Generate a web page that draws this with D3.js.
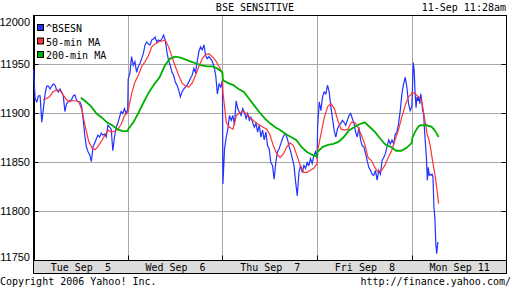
<!DOCTYPE html>
<html lang="en">
<head>
<meta charset="UTF-8">
<title>BSE SENSITIVE</title>
<script src="https://d3js.org/d3.v7.min.js"></script>
<style>
  body { margin: 0; background: #fff; }
  svg text { font-family: "DejaVu Sans Mono", monospace; font-size: 10px; fill: #000; }
</style>
</head>
<body>
<div id="chart"></div>
<script>

// session labels and y ticks
var dayLabels = ["Tue Sep  5", "Wed Sep  6", "Thu Sep  7", "Fri Sep  8", "Mon Sep 11"];
var yTicks = [11750, 11800, 11850, 11900, 11950, 12000];

// ^BSESN, one array per trading day
var bsesn = [
  [11945, 11915, 11912, 11918, 11918, 11891, 11905, 11920, 11928, 11928, 11925, 11928, 11930, 11929, 11924, 11922, 11925, 11922, 11918, 11902,
   11910, 11912, 11913, 11914, 11918, 11919, 11914, 11912, 11912, 11908, 11895, 11878, 11866, 11861, 11858, 11851, 11866, 11870, 11874, 11878,
   11876, 11880, 11878, 11879, 11876, 11888, 11886, 11884, 11862, 11876, 11886, 11890, 11896, 11902, 11900, 11905, 11900, 11904],
  [11935, 11941, 11958, 11949, 11953, 11942, 11948, 11951, 11956, 11961, 11970, 11973, 11971, 11970, 11975, 11976, 11978, 11973, 11975, 11974,
   11976, 11980, 11975, 11963, 11954, 11949, 11942, 11939, 11932, 11929, 11924, 11917, 11922, 11925, 11927, 11929, 11932, 11936, 11939, 11946,
   11942, 11953, 11963, 11968, 11965, 11970, 11959, 11956, 11958, 11956, 11953, 11948, 11939, 11920, 11930, 11927, 11934],
  [11828, 11864, 11876, 11884, 11898, 11893, 11898, 11888, 11913, 11905, 11901, 11898, 11905, 11901, 11895, 11900, 11893, 11896, 11891, 11886,
   11890, 11881, 11888, 11876, 11883, 11873, 11881, 11867, 11864, 11850, 11847, 11833, 11850, 11861, 11864, 11869, 11874, 11878, 11879, 11874,
   11867, 11861, 11854, 11847, 11830, 11816, 11840, 11847, 11840, 11847, 11844, 11850, 11847, 11854, 11849, 11857, 11861, 11854],
  [11886, 11912, 11903, 11917, 11922, 11920, 11929, 11922, 11907, 11895, 11883, 11876, 11884, 11888, 11890, 11893, 11891, 11888, 11893, 11898,
   11900, 11895, 11890, 11881, 11876, 11886, 11873, 11867, 11866, 11859, 11852, 11845, 11842, 11838, 11837, 11842, 11832, 11842, 11838, 11852,
   11855, 11859, 11866, 11873, 11869, 11873, 11869, 11879, 11881, 11890, 11903, 11920, 11930, 11937, 11927, 11910, 11903, 11907],
  [11920, 11952, 11944, 11920, 11906, 11917, 11913, 11917, 11910, 11920, 11913, 11903, 11900, 11883, 11869, 11855, 11832, 11845, 11837, 11838,
   11837, 11838, 11835, 11804, 11794, 11767, 11757, 11768, 11768]
];

// 50-min moving average
var ma50 = [
  [11914, 11915, 11917, 11922, 11924, 11924, 11920, 11915, 11912, 11913, 11913, 11912, 11903, 11886, 11872, 11865, 11863, 11867, 11872, 11878,
   11883, 11881, 11882, 11884, 11889, 11898, 11901],
  [11903, 11920, 11932, 11939, 11948, 11953, 11959, 11968, 11971, 11973, 11974, 11975, 11968, 11958, 11948, 11939, 11931, 11928, 11927, 11931,
   11939, 11948, 11956, 11960, 11961, 11958, 11954, 11948, 11941],
  [11922, 11891, 11886, 11884, 11898, 11901, 11902, 11900, 11896, 11893, 11890, 11888, 11886, 11884, 11878, 11867, 11859, 11855, 11859, 11866,
   11870, 11867, 11857, 11847, 11840, 11840, 11842, 11844, 11849],
  [11862, 11879, 11896, 11907, 11910, 11905, 11893, 11884, 11883, 11884, 11891, 11891, 11886, 11878, 11869, 11855, 11852, 11845, 11840, 11842,
   11847, 11855, 11862, 11873, 11883, 11896, 11908, 11917, 11920],
  [11922, 11921, 11920, 11918, 11917, 11915, 11910, 11900, 11890, 11879, 11874, 11866, 11855, 11845, 11835, 11822, 11808]
];

// 200-min moving average
var ma200 = [
  [11916, 11912, 11907, 11900, 11896, 11891, 11888, 11884, 11882, 11882],
  [11884, 11891, 11901, 11912, 11922, 11930, 11937, 11949, 11956, 11958, 11957, 11955, 11953, 11951, 11949, 11948, 11948, 11946, 11942],
  [11934, 11931, 11929, 11925, 11922, 11915, 11908, 11901, 11895, 11890, 11886, 11883, 11879, 11876, 11873, 11866, 11861, 11858, 11856],
  [11861, 11866, 11868, 11869, 11871, 11876, 11883, 11886, 11889, 11891, 11886, 11881, 11874, 11868, 11866, 11862, 11862, 11865, 11870],
  [11875, 11879, 11882, 11885, 11887, 11888, 11888, 11888, 11888, 11888, 11887, 11887, 11886, 11884, 11882, 11879, 11876]
];

// part of the first session where each series begins, and how far into Monday (11:28am) the data runs
var firstStart = {bsesn: 0, ma50: 0.1, ma200: 0.5};
var lastEnd = 0.278;

var series = [
  {name: "^BSESN", data: bsesn, start: firstStart.bsesn, color: "#2233ff", width: 1.2},
  {name: "50-min MA", data: ma50, start: firstStart.ma50, color: "#ff3333", width: 1.2},
  {name: "200-min MA", data: ma200, start: firstStart.ma200, color: "#00b000", width: 1.8}
];

var W = 512, H = 288;
var svg = d3.select("#chart").append("svg")
  .attr("width", W).attr("height", H);

var x = d3.scaleLinear().domain([0, 5]).range([33.5, 507]);
var y = d3.scaleLinear().domain([11750, 12000]).range([260.5, 15.5]);
var px = function(v) { return Math.round(v - 0.5) + 0.5; };

// title + time stamp
svg.append("text").attr("x", 255).attr("y", 11).attr("text-anchor", "middle").text("BSE SENSITIVE");
svg.append("text").attr("x", 506).attr("y", 11).attr("text-anchor", "end").text("11-Sep 11:28am");

// grid
svg.append("g").selectAll("line").data(yTicks).enter().append("line")
  .attr("x1", 33.5).attr("x2", 506.5)
  .attr("y1", function(d) { return px(y(d)); }).attr("y2", function(d) { return px(y(d)); })
  .attr("stroke", "#a8a8a8");
svg.append("g").selectAll("line").data([1, 2, 3, 4]).enter().append("line")
  .attr("y1", 15.5).attr("y2", 260.5)
  .attr("x1", function(d) { return px(x(d)); }).attr("x2", function(d) { return px(x(d)); })
  .attr("stroke", "#a8a8a8");

// y axis, ticks pointing inward
var yAxis = svg.append("g")
  .attr("transform", "translate(34,0)")
  .call(d3.axisLeft(y).tickValues(yTicks).tickFormat(d3.format("d"))
    .tickSizeInner(-5).tickSizeOuter(0).tickPadding(4));
yAxis.select(".domain").remove();
yAxis.selectAll("line").attr("stroke", "#000").attr("transform", "translate(-0.5,0)");
yAxis.selectAll(".tick").attr("transform", function(d) { return "translate(0," + px(y(d)) + ")"; });
yAxis.selectAll("text")
  .style("font-family", "'Liberation Sans', Arial, sans-serif").style("font-size", "11px")
  .attr("dy", function(d) { return d == 12000 ? "0.95em" : d == 11750 ? "0.05em" : "0.35em"; });

// right-side inward ticks
svg.append("g").attr("transform", "translate(506.5,0)")
  .call(d3.axisRight(y).tickValues(yTicks).tickSize(-5).tickFormat(""))
  .call(function(g) {
    g.select(".domain").remove();
    g.selectAll(".tick").attr("transform", function(d) { return "translate(0," + px(y(d)) + ")"; });
    g.selectAll("line").attr("stroke", "#000");
  });

// bottom inward ticks at each day
svg.append("g").attr("transform", "translate(0,260.5)")
  .call(d3.axisBottom(x).tickValues([1, 2, 3, 4]).tickSize(-5).tickFormat(""))
  .call(function(g) {
    g.select(".domain").remove();
    g.selectAll(".tick").attr("transform", function(d) { return "translate(" + px(x(d)) + ",0)"; });
    g.selectAll("line").attr("stroke", "#000");
  });

// plot frame
svg.append("rect").attr("x", 33.5).attr("y", 15.5).attr("width", 473).attr("height", 245)
  .attr("fill", "none").attr("stroke", "#000");
svg.append("line").attr("x1", 34.5).attr("x2", 34.5).attr("y1", 15).attr("y2", 261).attr("stroke", "#000");

// lines
var line = d3.line()
  .x(function(d) { return x(d.t); })
  .y(function(d) { return y(d.v); });

series.forEach(function(s) {
  var pts = [];
  s.data.forEach(function(day, d) {
    var a = d == 0 ? s.start : 0;
    var b = d == s.data.length - 1 ? lastEnd : 0.995;
    day.forEach(function(v, i) {
      pts.push({t: d + a + (b - a) * i / (day.length - 1), v: v});
    });
  });
  svg.append("path").datum(pts)
    .attr("fill", "none")
    .attr("stroke", s.color)
    .attr("stroke-width", s.width)
    .attr("stroke-linejoin", "miter")
    .attr("d", line);
});

// legend
var legend = svg.append("g").selectAll("g").data(series).enter().append("g")
  .attr("transform", function(d, i) { return "translate(37," + (24 + i * 13.5) + ")"; });
legend.append("rect").attr("x", 0.5).attr("y", 0.5).attr("width", 6).attr("height", 6)
  .attr("fill", function(d) { return d.color; }).attr("stroke", "#000");
legend.append("text").attr("x", 9).attr("y", 8).text(function(d) { return d.name; });

// date band under the plot
svg.append("rect").attr("x", 33.5).attr("y", 260.5).attr("width", 473).attr("height", 13)
  .attr("fill", "#dcdcdc").attr("stroke", "#000");
svg.append("g").attr("transform", "translate(0,271)")
  .selectAll("text").data(dayLabels).enter().append("text")
  .attr("x", function(d, i) { return x(i + 0.5); })
  .attr("text-anchor", "middle")
  .style("white-space", "pre")
  .text(function(d) { return d; });

// footer
svg.append("text").attr("x", 0).attr("y", 285).text("Copyright 2006 Yahoo! Inc.");
svg.append("text").attr("x", 511).attr("y", 285).attr("text-anchor", "end").text("http://finance.yahoo.com/");

</script>
</body>
</html>
